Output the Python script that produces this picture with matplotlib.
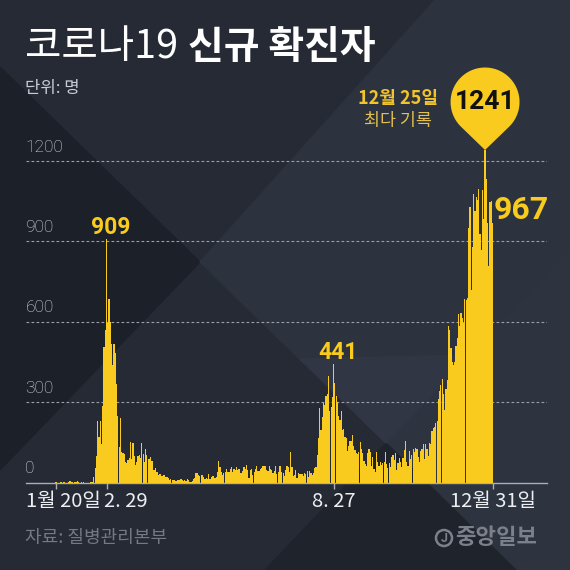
import numpy as np
import pandas as pd
import matplotlib
matplotlib.use('Agg')
import matplotlib.pyplot as plt
import matplotlib.transforms as mtransforms
from matplotlib.patches import Polygon, Circle, PathPatch
from matplotlib.path import Path

# 코로나19 일별 신규 확진자 (발표일 기준, 1월 20일 ~ 12월 31일)
jan = [1, 0, 0, 0, 1, 0, 1, 1, 0, 0, 2, 5]
feb = [1, 3, 0, 1, 3, 4, 1, 0, 3, 0, 1, 0, 0, 0, 0, 1, 1, 1,
       20, 53, 100, 229, 169, 231, 144, 284, 505, 571, 909]
mar = [595, 686, 600, 516, 438, 518, 483, 367, 248, 131, 242, 114, 110, 107, 76, 74,
       84, 93, 152, 87, 147, 98, 64, 76, 100, 104, 91, 146, 105, 78, 125]
apr = [101, 89, 86, 94, 81, 47, 47, 53, 39, 27, 30, 32, 25, 27, 27, 22, 22, 18, 8, 13,
       9, 11, 8, 6, 10, 10, 10, 14, 9, 4]
may = [9, 6, 13, 8, 3, 2, 4, 12, 18, 34, 35, 27, 26, 29, 27, 19, 13, 15, 13, 32,
       12, 20, 23, 25, 16, 19, 40, 79, 58, 39, 27]
jun = [35, 38, 49, 39, 39, 51, 57, 38, 50, 45, 56, 48, 49, 37, 34, 43, 59, 49, 67, 48,
       17, 46, 51, 28, 39, 51, 62, 42, 43, 51]
jul = [54, 63, 63, 61, 48, 44, 62, 50, 45, 35, 44, 62, 33, 39, 61, 60, 39, 34, 26, 45,
       63, 59, 41, 113, 58, 25, 28, 48, 18, 36, 31]
aug = [31, 30, 23, 34, 33, 43, 20, 43, 36, 28, 34, 54, 56, 103, 166, 279, 197, 246, 297, 288,
       324, 332, 397, 266, 280, 320, 441, 371, 323, 299, 248]
sep = [235, 267, 195, 198, 168, 167, 119, 136, 156, 155, 176, 136, 121, 109, 106, 113, 153, 126, 110, 82,
       70, 61, 110, 125, 114, 61, 95, 50, 38, 113]
octo = [77, 63, 75, 64, 73, 75, 114, 69, 54, 72, 58, 97, 102, 84, 110, 47, 73, 91, 76, 58,
        91, 121, 155, 77, 61, 119, 88, 103, 125, 114, 127]
nov = [124, 97, 75, 118, 125, 145, 89, 143, 126, 100, 146, 143, 191, 205, 208, 223, 230, 313, 343, 363,
       386, 330, 271, 349, 382, 583, 569, 503, 450, 438]
dec = [451, 511, 540, 629, 583, 631, 615, 594, 686, 682, 689, 950, 1030, 718, 880, 1078, 1014, 1064, 1053, 1097,
       926, 869, 1092, 985, 1241, 1132, 970, 808, 1046, 1050, 967]

cases = np.array(jan + feb + mar + apr + may + jun + jul + aug + sep + octo + nov + dec)
dates = pd.date_range('2020-01-20', '2020-12-31')
days = np.arange(len(dates))

tick_dates = ['2020-01-20', '2020-02-29', '2020-08-27', '2020-12-31']
tick_labels = ['1월 20일', '2. 29', '8. 27', '12월 31일']
y_ticks = [0, 300, 600, 900, 1200]
peak_labels = {'2020-02-29': '909', '2020-08-27': '441'}
record_date = '2020-12-25'
last_date = '2020-12-31'

YELLOW = '#F8CB1E'
KR = 'Noto Sans CJK KR'


def idx(d):
    return int(np.where(dates == pd.Timestamp(d))[0][0])


fig = plt.figure(figsize=(5.7, 5.7), dpi=100)

# 배경 (픽셀 좌표)
bg = fig.add_axes([0, 0, 1, 1], zorder=0)
bg.set_xlim(0, 570)
bg.set_ylim(570, 0)
bg.axis('off')
bg.add_patch(Polygon([(0, 0), (570, 0), (570, 570), (0, 570)], color='#252A35'))
bg.add_patch(Polygon([(0, 67), (200, 262), (0, 470)], color='#1C2028'))
bg.add_patch(Polygon([(200, 262), (435, 0), (570, 0), (570, 570), (516, 570)], color='#2C323E'))
bg.add_patch(Polygon([(386, 443), (570, 249), (570, 570), (516, 570)], color='#2D333F'))
bg.add_patch(Polygon([(386, 443), (516, 570), (265, 570)], color='#1F232C'))
bg.add_patch(Polygon([(386, 443), (300, 359), (470, 355)], color='#303643'))

# 제목
t1 = bg.text(25, 47, '코로나19', fontsize=28.5, color='white', family=KR, weight='light', va='center')
fig.canvas.draw()
ext = t1.get_window_extent()
bg.text(ext.x1 + 10, 47, '신규 확진자', fontsize=28, color='white', family=KR,
        weight='bold', va='center')
bg.text(25, 89, '단위: 명', fontsize=12, color='#C9CDD4', family=KR, weight='light', va='center')
bg.text(25, 538, '자료: 질병관리본부', fontsize=13, color='#747984', family=KR, va='center')
bg.add_patch(Circle((444, 538), 8, fill=False, ec='#7B808A', lw=1.8))
bg.text(444, 538, 'J', fontsize=9, color='#7B808A', family='Roboto', weight='bold',
        ha='center', va='center')
bg.text(455, 537, '중앙일보', fontsize=16, color='#7B808A', family=KR,
        weight='bold', va='center')

# 차트
ax = fig.add_axes([25.5 / 570, 87.5 / 570, 521 / 570, 348.3 / 570], zorder=1)
ax.patch.set_alpha(0)
ax.set_xlim(-24.2, 388.7)
ax.set_ylim(0, 1300)

for v in y_ticks[1:]:
    ax.axhline(v, color='#9AA0AA', lw=0.8, ls=(0, (2.5, 2)), zorder=1)

ax.bar(days, cases, width=0.95, color=YELLOW, linewidth=0, zorder=3)

for s in ['top', 'right', 'left']:
    ax.spines[s].set_visible(False)
ax.spines['bottom'].set_color('#A9AEB7')
ax.spines['bottom'].set_linewidth(1)
ax.set_yticks([])
ax.set_xticks([idx(d) for d in tick_dates])
ax.tick_params(axis='x', length=4, width=1, color='#A9AEB7', labelbottom=False)

# y 눈금 라벨
for v in y_ticks:
    ax.annotate(str(v), xy=(0, v), xycoords=('axes fraction', 'data'), xytext=(0, 10),
                textcoords='offset points', fontsize=12.5, color='#DDE0E4', family='Roboto',
                weight='light', va='center', ha='left')

# x 눈금 라벨
for d, lab in zip(tick_dates, tick_labels):
    if lab == '1월 20일':
        xy, xc, ha, dx = (0, 0), ('axes fraction', 'axes fraction'), 'left', 0
    elif lab == '2. 29':
        xy, xc, ha, dx = (idx(d), 0), ('data', 'axes fraction'), 'left', -2
    else:
        xy, xc, ha, dx = (idx(d), 0), ('data', 'axes fraction'), 'center', 0
    ax.annotate(lab, xy=xy, xycoords=xc, xytext=(dx, -6), textcoords='offset points',
                fontsize=14.5, color='#ECEEF1', family=KR, weight='light', ha=ha, va='top')

# 봉우리 라벨
for d, lab in peak_labels.items():
    ax.annotate(lab, xy=(idx(d), cases[idx(d)]), xytext=(3, 0), textcoords='offset points',
                fontsize=16.5, color=YELLOW, family='Roboto', weight='bold', ha='center', va='bottom')

li = idx(last_date)
ax.annotate(str(cases[li]), xy=(li, cases[li]), xytext=(1, 10), textcoords='offset points',
            fontsize=23, color=YELLOW, family='Roboto', weight='bold', ha='left', va='center')

# 최다 기록 풍선
ri = idx(record_date)
r, dist = 34.5, 48
a = np.arccos(r / dist)
t = np.linspace(-np.pi / 2 + a, 3 * np.pi / 2 - a, 80)
verts = [(0, 0)] + [(r * np.cos(k), dist + r * np.sin(k)) for k in t] + [(0, 0)]
pin = Path(verts, [Path.MOVETO] + [Path.LINETO] * (len(verts) - 2) + [Path.CLOSEPOLY])
trans = mtransforms.ScaledTranslation(ri, cases[ri], ax.transData)
ax.add_patch(PathPatch(pin, facecolor=YELLOW, edgecolor='none', transform=trans,
                       clip_on=False, zorder=5))
ax.annotate(str(cases[ri]), xy=(ri, cases[ri]), xytext=(0, dist * 0.72), textcoords='offset points',
            fontsize=19, color='#111111', family='Roboto', weight='bold', ha='center', va='center',
            zorder=6)
rd = pd.Timestamp(record_date)
ax.annotate('{}월 {}일'.format(rd.month, rd.day), xy=(ri, cases[ri]), xytext=(-63, 37),
            textcoords='offset points', fontsize=13, color='#F2C42C', family=KR,
            weight='bold', ha='center', va='center')
ax.annotate('최다 기록', xy=(ri, cases[ri]), xytext=(-63, 21), textcoords='offset points',
            fontsize=12.5, color='#E3C04F', family=KR, weight='light',
            ha='center', va='center')

fig.savefig('out.png', dpi=100)
